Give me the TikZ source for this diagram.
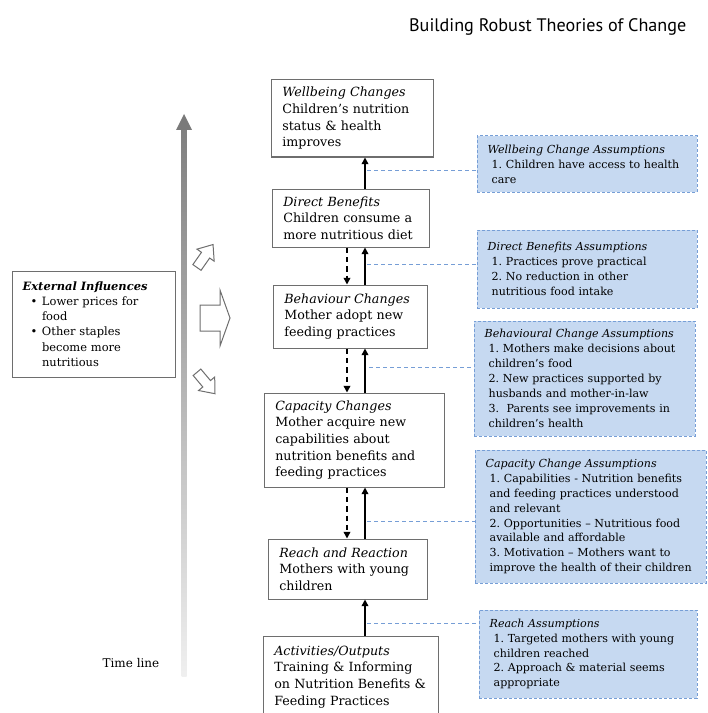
\documentclass[tikz,border=0pt]{standalone}
\usepackage{fontspec}
\setmainfont{DejaVu Serif}
\newfontfamily\titlefont{PT Sans}
\usetikzlibrary{arrows.meta}

\definecolor{assumfill}{RGB}{198,217,241}
\definecolor{assumline}{RGB}{118,158,214}
\definecolor{boxline}{RGB}{110,110,110}

\tikzset{
  stage/.style={draw=boxline, line width=0.75pt, align=left, inner xsep=8.5pt, inner ysep=0pt,
    font=\fontsize{9.5}{12.5}\selectfont},
  assum/.style={draw=assumline, fill=assumfill, line width=0.75pt, dash pattern=on 2.25pt off 1.5pt,
    align=left, inner xsep=8pt, inner ysep=0pt, font=\fontsize{8.3}{11.2}\selectfont},
  extbox/.style={draw=boxline, line width=0.75pt, align=left, inner xsep=8pt, inner ysep=0pt,
    font=\fontsize{8.6}{11.4}\selectfont},
  upar/.style={line width=1.1pt, -{Triangle[length=5pt,width=5pt]}},
  dnar/.style={line width=1.1pt, dash pattern=on 4pt off 3pt, -{Triangle[length=5pt,width=5pt]}},
  link/.style={assumline, line width=0.75pt, dash pattern=on 3pt off 2.25pt},
  bigarrow/.pic={\draw[boxline, line width=0.75pt, fill=white] (-15,-13) -- (5,-13) -- (5,-28) -- (15,0) -- (5,28) -- (5,13) -- (-15,13) -- cycle;},
  smallarrow/.pic={\draw[boxline, line width=0.75pt, fill=white] (-14,-5) -- (1,-5) -- (1,-10.5) -- (14,0) -- (1,10.5) -- (1,5) -- (-14,5) -- cycle;}
}
\newcommand\itm{\hspace*{3pt}}

\begin{document}
\frenchspacing
\begin{tikzpicture}[x=0.75pt,y=0.75pt,yscale=-1,xscale=1]
\useasboundingbox (0,0) rectangle (707,713);
\clip (0,0) rectangle (707,713);

%Title
\node[anchor=east, font=\titlefont\fontsize{13.6}{16}\selectfont] (title) at (691,27) {Building Robust Theories of Change};

%Time line
\coordinate (tltop) at (184,114);
\shade[top color=black!50, bottom color=black!6] (181.5,128) rectangle (186.5,676);
\fill[black!52] (176,130) -- (tltop) -- (192,130) -- cycle;
\node[anchor=east, font=\fontsize{9}{11}\selectfont] (tllabel) at (164,663) {Time line};

%External influences
\node[extbox, text width=106.25pt, minimum height=79.5pt] (ext) at (93.5,324)
  {\textbf{\textit{External Influences}}\\
   \hspace*{6pt}\makebox[8.5pt][l]{\textbullet}Lower prices for\\
   \hspace*{14.5pt}food\\
   \hspace*{6pt}\makebox[8.5pt][l]{\textbullet}Other staples\\
   \hspace*{14.5pt}become more\\
   \hspace*{14.5pt}nutritious};
\pic[rotate=55] at (205,256) {smallarrow};
\pic at (215,318) {bigarrow};
\pic[rotate=-50] at (206,383) {smallarrow};

%Stages
\node[stage, text width=104.5pt, minimum height=57.75pt] (well) at (352,118.5)
  {\textit{Wellbeing Changes}\\Children's nutrition\\status \& health\\improves};
\node[stage, text width=100.75pt, minimum height=43.5pt] (direct) at (350.5,218)
  {\textit{Direct Benefits}\\Children consume a\\more nutritious diet};
\node[stage, text width=98.5pt, minimum height=47.25pt] (behav) at (350,316.5)
  {\textit{Behaviour Changes}\\Mother adopt new\\feeding practices};
\node[stage, text width=118pt, minimum height=70.5pt] (capac) at (354,440)
  {\textit{Capacity Changes}\\Mother acquire new\\capabilities about\\nutrition benefits and\\feeding practices};
\node[stage, text width=102.25pt, minimum height=45pt] (reach) at (347.5,569)
  {\textit{Reach and Reaction}\\Mothers with young\\children};
\node[stage, text width=114.25pt, minimum height=61.5pt] (activ) at (350.5,677)
  {\textit{Activities/Outputs}\\Training \& Informing\\on Nutrition Benefits \&\\Feeding Practices};

%Straight Lines
\coordinate (up) at (365,0);
\coordinate (dn) at (347,0);
\draw[upar] (direct.north -| up) -- (well.south -| up);
\draw[dnar] (direct.south -| dn) -- (behav.north -| dn);
\draw[upar] (behav.north -| up) -- (direct.south -| up);
\draw[dnar] (behav.south -| dn) -- (capac.north -| dn);
\draw[upar] (capac.north -| up) -- (behav.south -| up);
\draw[dnar] (capac.south -| dn) -- (reach.north -| dn);
\draw[upar] (reach.north -| up) -- (capac.south -| up);
\draw[upar] (activ.north -| up) -- (reach.south -| up);

%Assumptions
\node[assum, text width=149pt, minimum height=42pt] (a1) at (587,164)
  {\textit{Wellbeing Change Assumptions}\\\itm 1. Children have access to health\\\itm care};
\node[assum, text width=149pt, minimum height=58.5pt] (a2) at (587,269)
  {\textit{Direct Benefits Assumptions}\\\itm 1. Practices prove practical\\\itm 2. No reduction in other\\\itm nutritious food intake};
\node[assum, text width=149.75pt, minimum height=86.25pt] (a3) at (584.5,378.5)
  {\textit{Behavioural Change Assumptions}\\\itm 1. Mothers make decisions about\\\itm children's food\\\itm 2. New practices supported by\\\itm husbands and mother-in-law\\\itm 3.\ \ Parents see improvements in\\\itm children's health};
\node[assum, text width=157.25pt, minimum height=99.75pt] (a4) at (590.5,516.5)
  {\textit{Capacity Change Assumptions}\\\itm 1. Capabilities - Nutrition benefits\\\itm and feeding practices understood\\\itm and relevant\\\itm 2. Opportunities -- Nutritious food\\\itm available and affordable\\\itm 3. Motivation -- Mothers want to\\\itm improve the health of their children};
\node[assum, text width=147.5pt, minimum height=66pt] (a5) at (588,654)
  {\textit{Reach Assumptions}\\\itm 1. Targeted mothers with young\\\itm children reached\\\itm 2. Approach \& material seems\\\itm appropriate};

%Dashed links
\coordinate (l1) at (367,170);
\coordinate (l2) at (367,264);
\coordinate (l3) at (369,367);
\coordinate (l4) at (367,521);
\coordinate (l5) at (367,623);
\draw[link] (l1) -- (l1 -| a1.west);
\draw[link] (l2) -- (l2 -| a2.west);
\draw[link] (l3) -- (l3 -| a3.west);
\draw[link] (l4) -- (l4 -| a4.west);
\draw[link] (l5) -- (l5 -| a5.west);
\end{tikzpicture}
\end{document}
